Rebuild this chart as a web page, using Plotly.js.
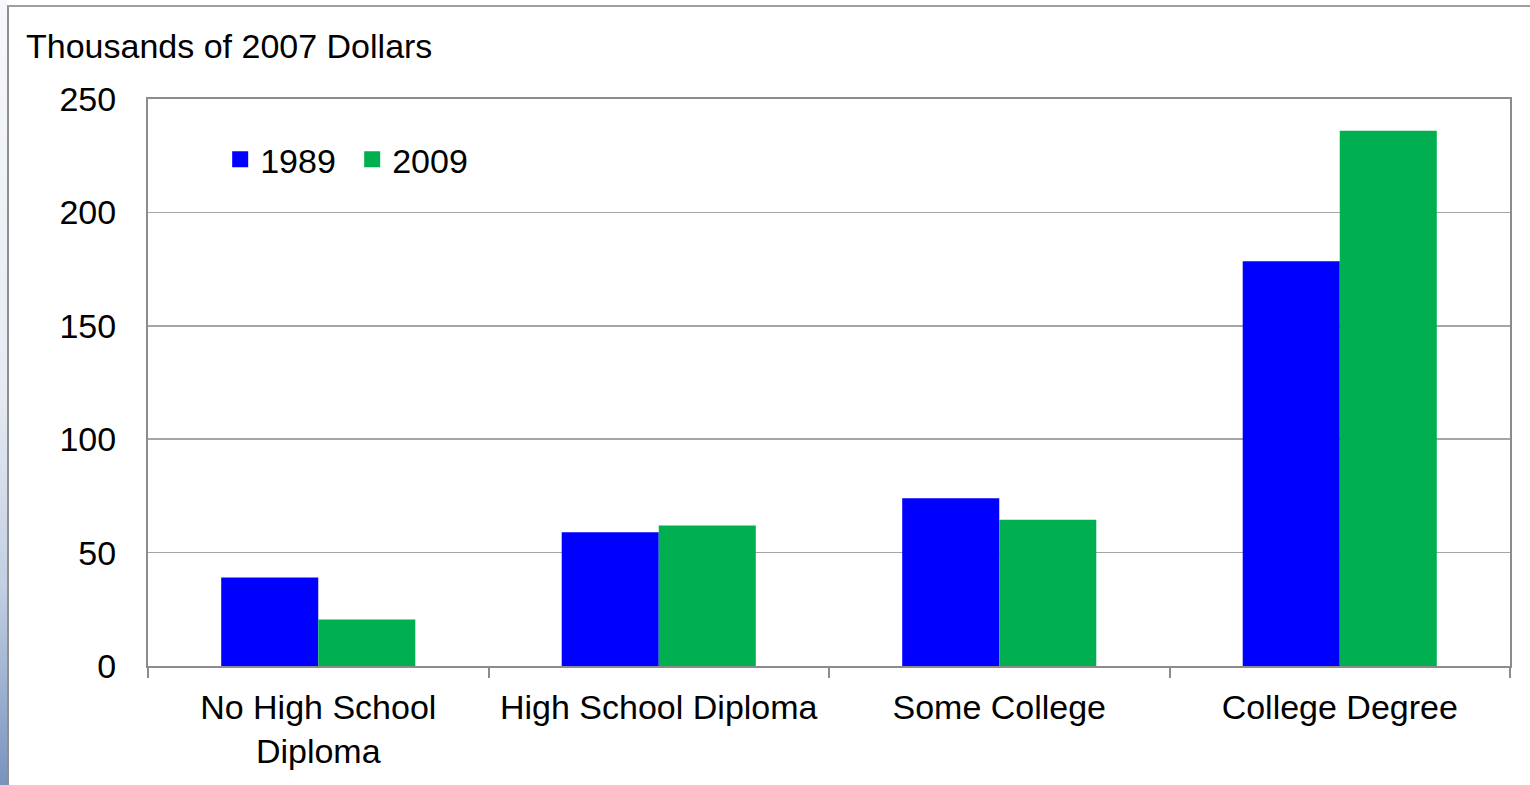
<!DOCTYPE html>
<html>
<head>
<meta charset="utf-8">
<script src="https://cdn.plot.ly/plotly-3.0.1.min.js"></script>
<style>
  html, body { margin: 0; padding: 0; width: 1530px; height: 785px; overflow: hidden; background: #ffffff; }
  #strip { position: absolute; left: 0; top: 0; width: 7px; height: 785px;
           background: linear-gradient(to bottom, #f7f8fb 0%, #e6ebf3 50%, #c2cfe2 75%, #7893bf 100%); }
  #frame { position: absolute; left: 7px; top: 5px; width: 1523px; height: 780px;
           border-left: 2px solid #8f8f8f; border-top: 2px solid #a0a0a0; box-sizing: border-box; }
  #chart { position: absolute; left: 0; top: 0; width: 1530px; height: 785px; }
</style>
</head>
<body>
<div id="strip"></div>
<div id="frame"></div>
<div id="chart"></div>
<script>
const categories = ["No High School<br>Diploma", "High School Diploma", "Some College", "College Degree"];
const values1989 = [39, 59, 74, 178.5];
const values2009 = [20.5, 62, 64.5, 236];
const seriesNames = ["1989", "2009"];
const seriesColors = ["#0000FF", "#00B050"];
const yTicks = [0, 50, 100, 150, 200, 250];

const FONT = "Liberation Sans, Arial, sans-serif";
const FS = 34;

const traces = [
  { type: "bar", name: seriesNames[0], x: categories, y: values1989,
    marker: { color: seriesColors[0] }, hoverinfo: "none", showlegend: false },
  { type: "bar", name: seriesNames[1], x: categories, y: values2009,
    marker: { color: seriesColors[1] }, hoverinfo: "none", showlegend: false },
  // legend-only entries (larger square swatches, like the original)
  { type: "scatter", mode: "markers", name: seriesNames[0], x: [null], y: [null],
    marker: { symbol: "square", size: 18, color: seriesColors[0] }, hoverinfo: "none" },
  { type: "scatter", mode: "markers", name: seriesNames[1], x: [null], y: [null],
    marker: { symbol: "square", size: 18, color: seriesColors[1] }, hoverinfo: "none" }
];

const layout = {
  width: 1530, height: 785,
  margin: { l: 148, r: 20, t: 99, b: 119, pad: 0 },
  paper_bgcolor: "rgba(0,0,0,0)",
  plot_bgcolor: "#ffffff",
  font: { family: FONT, size: FS, color: "#000000" },
  barmode: "group",
  bargap: 0.43,
  bargroupgap: 0,
  showlegend: true,
  legend: {
    orientation: "h", x: 0.053, xanchor: "left", y: 0.893, yanchor: "middle",
    font: { family: FONT, size: FS, color: "#000000" },
    bgcolor: "rgba(0,0,0,0)", itemclick: false, traceorder: "normal",
    entrywidth: 87, entrywidthmode: "pixels"
  },
  title: {
    text: "Thousands of 2007 Dollars",
    xref: "container", yref: "container",
    x: 26 / 1530, xanchor: "left",
    y: 1 - 46 / 785, yanchor: "middle",
    font: { family: FONT, size: FS, color: "#000000" }
  },
  xaxis: {
    type: "category",
    categoryorder: "array", categoryarray: categories,
    tickson: "boundaries",
    ticks: "outside", ticklen: 10, tickwidth: 2, tickcolor: "#8c8c8c",
    showline: true, linecolor: "#8c8c8c", linewidth: 2, mirror: true,
    showgrid: false, zeroline: false,
    tickfont: { family: FONT, size: FS, color: "#000000" },
    ticklabelstandoff: 10,
    fixedrange: true
  },
  yaxis: {
    range: [0, 250],
    tickvals: yTicks,
    ticks: "",
    showline: true, linecolor: "#8c8c8c", linewidth: 2, mirror: true,
    showgrid: true, gridcolor: "#a6a6a6", gridwidth: 1.5,
    zeroline: false,
    tickfont: { family: FONT, size: FS, color: "#000000" },
    ticklabelstandoff: 23,
    fixedrange: true
  }
};

Plotly.newPlot("chart", traces, layout, { displayModeBar: false, staticPlot: true });
</script>
</body>
</html>
